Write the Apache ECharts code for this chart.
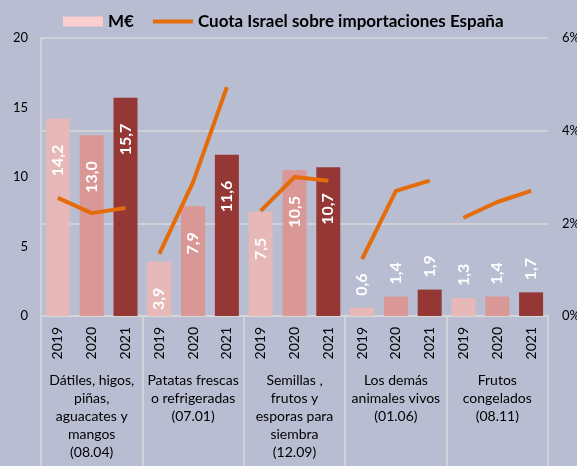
<!DOCTYPE html>
<html>
<head>
<meta charset="UTF-8"/>
<script src="https://cdn.jsdelivr.net/npm/echarts@6/dist/echarts.min.js"></script>
<style>
  html, body { margin: 0; padding: 0; background: #b8bdd2; }
  #main { width: 577px; height: 466px; }
</style>
</head>
<body>
<div id="main"></div>
<script type="text/javascript">
  // datos
  var grupos = ['Dátiles, higos,\npiñas,\naguacates y\nmangos\n(08.04)',
                'Patatas frescas\no refrigeradas\n(07.01)',
                'Semillas ,\nfrutos y\nesporas para\nsiembra\n(12.09)',
                'Los demás\nanimales vivos\n(01.06)',
                'Frutos\ncongelados\n(08.11)'];
  var anios = ['2019', '2020', '2021'];
  var millones = [14.2, 13.0, 15.7, 3.9, 7.9, 11.6, 7.5, 10.5, 10.7, 0.6, 1.4, 1.9, 1.3, 1.4, 1.7];
  var cuota = [2.55, 2.22, 2.33, 1.34, 2.89, 4.94, 2.27, 3.00, 2.92, 1.23, 2.70, 2.92, 2.12, 2.46, 2.70];
  var ticksIzq = [0, 20, 5];
  var ticksDer = [0, 6, 2];

  var coloresAnio = ['#e6b9b8', '#d99795', '#953735'];
  var fuente = 'Lato';

  var categorias = [];
  grupos.forEach(function () {
      anios.forEach(function (a) { categorias.push(a); });
  });

  var barras = millones.map(function (v, i) {
      var peque = v < 3;
      return {
          value: v,
          itemStyle: { color: coloresAnio[i % 3] },
          label: peque ? { position: 'top', distance: 12, align: 'left' }
                       : { position: 'insideTop', distance: 26, align: 'right' }
      };
  });

  var series = [{
      name: 'M€',
      type: 'bar',
      xAxisIndex: 0,
      yAxisIndex: 0,
      barWidth: '71%',
      itemStyle: { color: '#fbcfd0' },
      data: barras,
      label: {
          show: true,
          rotate: 90,
          verticalAlign: 'middle',
          color: '#fff',
          fontFamily: fuente,
          fontWeight: 'bold',
          fontSize: 16,
          formatter: function (p) { return p.value.toFixed(1).replace('.', ','); }
      },
      z: 2
  }];

  // una linea por grupo, sin unir los grupos
  grupos.forEach(function (g, gi) {
      series.push({
          name: 'Cuota Israel sobre importaciones España',
          type: 'line',
          xAxisIndex: 0,
          yAxisIndex: 1,
          symbol: 'none',
          lineStyle: { color: '#e46c0a', width: 4 },
          itemStyle: { color: '#e46c0a' },
          data: cuota.map(function (v, i) { return Math.floor(i / 3) === gi ? v : null; }),
          z: 3
      });
  });

  var option = {
      backgroundColor: '#b8bdd2',
      animation: false,
      textStyle: { fontFamily: fuente },
      legend: {
          top: 8,
          left: 58,
          itemWidth: 40,
          itemHeight: 10,
          itemGap: 19,
          textStyle: { fontFamily: fuente, fontWeight: 'bold', fontSize: 17, color: '#000' },
          data: [
              { name: 'M€', icon: 'rect' },
              { name: 'Cuota Israel sobre importaciones España', icon: 'path://M0,0 L40,0 L40,4 L0,4 Z' }
          ]
      },
      grid: { left: 41, right: 29, top: 38, bottom: 150, outerBoundsMode: 'none', containLabel: false },
      xAxis: [{
          type: 'category',
          data: categorias,
          position: 'bottom',
          axisLine: { show: true, lineStyle: { color: '#d9d9d9', width: 1.5 } },
          axisTick: { show: false },
          axisLabel: { interval: 0, rotate: 90, margin: 11, color: '#000', fontSize: 14, fontFamily: fuente }
      }, {
          type: 'category',
          data: grupos,
          position: 'bottom',
          axisLine: { show: false },
          axisTick: { show: true, length: 152, lineStyle: { color: '#d9d9d9', width: 1.5 } },
          axisLabel: { interval: 0, margin: 55, color: '#000', fontSize: 14, lineHeight: 18, fontFamily: fuente }
      }],
      yAxis: [{
          type: 'value',
          min: ticksIzq[0], max: ticksIzq[1], interval: ticksIzq[2],
          axisLine: { show: true, lineStyle: { color: '#d9d9d9', width: 1.5 } },
          axisTick: { show: false },
          splitLine: { show: false },
          axisLabel: { margin: 13, color: '#000', fontSize: 13, fontFamily: fuente }
      }, {
          type: 'value',
          min: ticksDer[0], max: ticksDer[1], interval: ticksDer[2],
          position: 'right',
          axisLine: { show: false },
          axisTick: { show: false },
          splitLine: { show: true, lineStyle: { color: '#d9d9d9', width: 1.5 } },
          axisLabel: { margin: 14, color: '#000', fontSize: 13, fontFamily: fuente, formatter: '{value}%' }
      }],
      series: series
  };

  var myChart = echarts.init(document.getElementById('main'));
  myChart.setOption(option);
</script>
</body>
</html>
